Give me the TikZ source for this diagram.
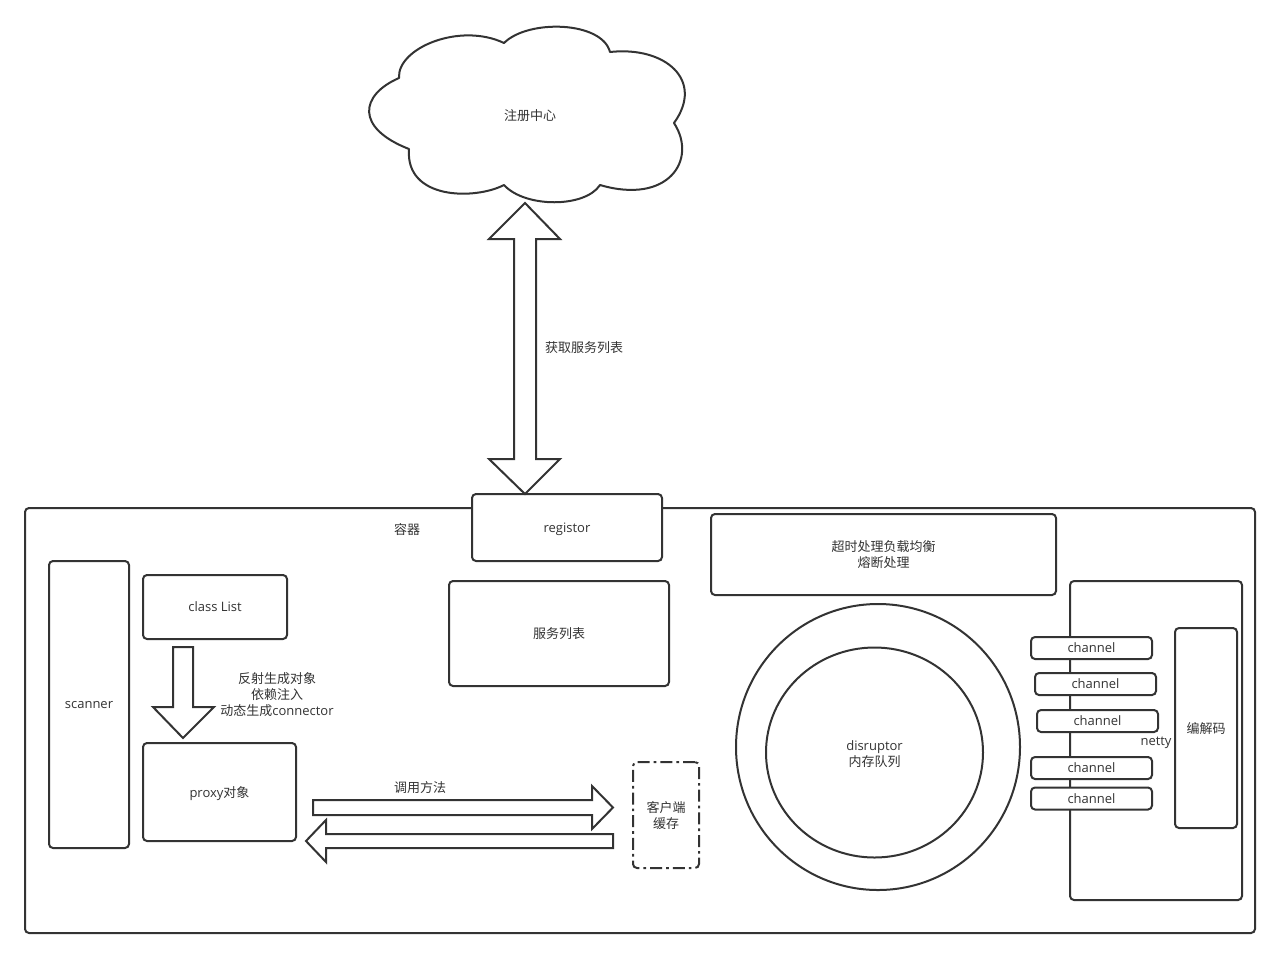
\documentclass[tikz,border=0pt]{standalone}
\usepackage{fontspec}
\setmainfont{Open Sans}
\newfontfamily\cjk{Noto Sans CJK SC}
\definecolor{inkgray}{HTML}{333333}
\tikzset{
	box/.style={draw=inkgray,line width=1.5pt,fill=white,rounded corners=3pt,inner sep=0pt,align=center,text=inkgray,text depth=-2pt,font=\fontsize{9.75pt}{12pt}\selectfont},
	txt/.style={inner sep=0pt,align=center,text=inkgray,font=\fontsize{9.75pt}{12pt}\selectfont},
	blockarrow/.style={draw=inkgray,line width=1.5pt,fill=white,line join=miter}
}
\begin{document}
\begin{tikzpicture}[x=0.75pt,y=-0.75pt]
	\useasboundingbox (0,0) rectangle (1280,958);
	% cloud
	\draw[blockarrow,line join=round] (399,78) .. controls (397,48) and (460,22) .. (504,43)
		.. controls (528,19) and (602,21) .. (610,52)
		.. controls (665,46) and (705,80) .. (674,123)
		.. controls (698,160) and (668,205) .. (600,185)
		.. controls (585,208) and (525,208) .. (504,185)
		.. controls (475,200) and (405,200) .. (409,149)
		.. controls (355,128) and (360,95) .. cycle;
	\node[txt] (center) at (530,116) {\cjk 注册中心};
	% container
	\node[box,minimum width=1230*0.75pt,minimum height=425*0.75pt] (container) at (640,720.5) {};
	\node[txt] (containerlabel) at (407,530) {\cjk 容器};
	\node[box,minimum width=190*0.75pt,minimum height=67*0.75pt] (registor) at (567,527.5) {registor};
	\node[box,minimum width=345*0.75pt,minimum height=81*0.75pt] (timeout) at (883.5,554.5) {\cjk 超时处理负载均衡\\\cjk 熔断处理};
	\node[box,minimum width=80*0.75pt,minimum height=287*0.75pt] (scanner) at (89,704.5) {scanner};
	\node[box,minimum width=144*0.75pt,minimum height=64*0.75pt] (classlist) at (215,607) {class List};
	\node[box,minimum width=153*0.75pt,minimum height=98*0.75pt] (proxy) at (219.5,792) {proxy{\cjk 对象}};
	\node[box,minimum width=220*0.75pt,minimum height=105*0.75pt] (servicelist) at (559,633.5) {\cjk 服务列表};
	\node[box,dash pattern=on 9pt off 3pt on 2pt off 3pt,minimum width=66*0.75pt,minimum height=106*0.75pt] (cache) at (666,815) {\cjk 客户端\\\cjk 缓存};
	% disruptor
	\draw[blockarrow] (878,747) ellipse (142 and 143);
	\draw[blockarrow] (874.5,752.5) ellipse (108.5 and 105);
	\node[txt] (disruptor) at (874.5,754) {disruptor\\\cjk 内存队列};
	% netty
	\node[box,minimum width=172*0.75pt,minimum height=319*0.75pt] (netty) at (1156,740.5) {};
	\node[txt] (nettylabel) at (1156,743) {netty};
	\node[box,minimum width=62*0.75pt,minimum height=200*0.75pt] (codec) at (1206,728) {\cjk 编解码};
	\node[box,minimum width=121*0.75pt,minimum height=22*0.75pt] (channela) at (1091.5,648) {channel};
	\node[box,minimum width=121*0.75pt,minimum height=22*0.75pt] (channelb) at (1095.5,684) {channel};
	\node[box,minimum width=121*0.75pt,minimum height=22*0.75pt] (channelc) at (1097.5,721) {channel};
	\node[box,minimum width=121*0.75pt,minimum height=22*0.75pt] (channeld) at (1091.5,768) {channel};
	\node[box,minimum width=121*0.75pt,minimum height=22*0.75pt] (channele) at (1091.5,798.5) {channel};
	% arrows
	\draw[blockarrow] (525,203) -- (560,239) -- (536,239) -- (536,459) -- (560,459) -- (525,494)
		-- (489,459) -- (514,459) -- (514,239) -- (489,239) -- cycle;
	\node[txt] (fetch) at (584,347.5) {\cjk 获取服务列表};
	\draw[blockarrow] (173,647) -- (193,647) -- (193,707) -- (214,707) -- (183,738) -- (153,707) -- (173,707) -- cycle;
	\node[txt] (reflect) at (277,695) {\cjk 反射生成对象\\\cjk 依赖注入\\{\cjk 动态生成}connector};
	\draw[blockarrow] (313,800) -- (592,800) -- (592,786) -- (613,807.5) -- (592,829) -- (592,815) -- (313,815) -- cycle;
	\node[txt] (invoke) at (420,788) {\cjk 调用方法};
	\draw[blockarrow] (613,834) -- (326,834) -- (326,820) -- (306,841) -- (326,862) -- (326,848) -- (613,848) -- cycle;
\end{tikzpicture}
\end{document}
